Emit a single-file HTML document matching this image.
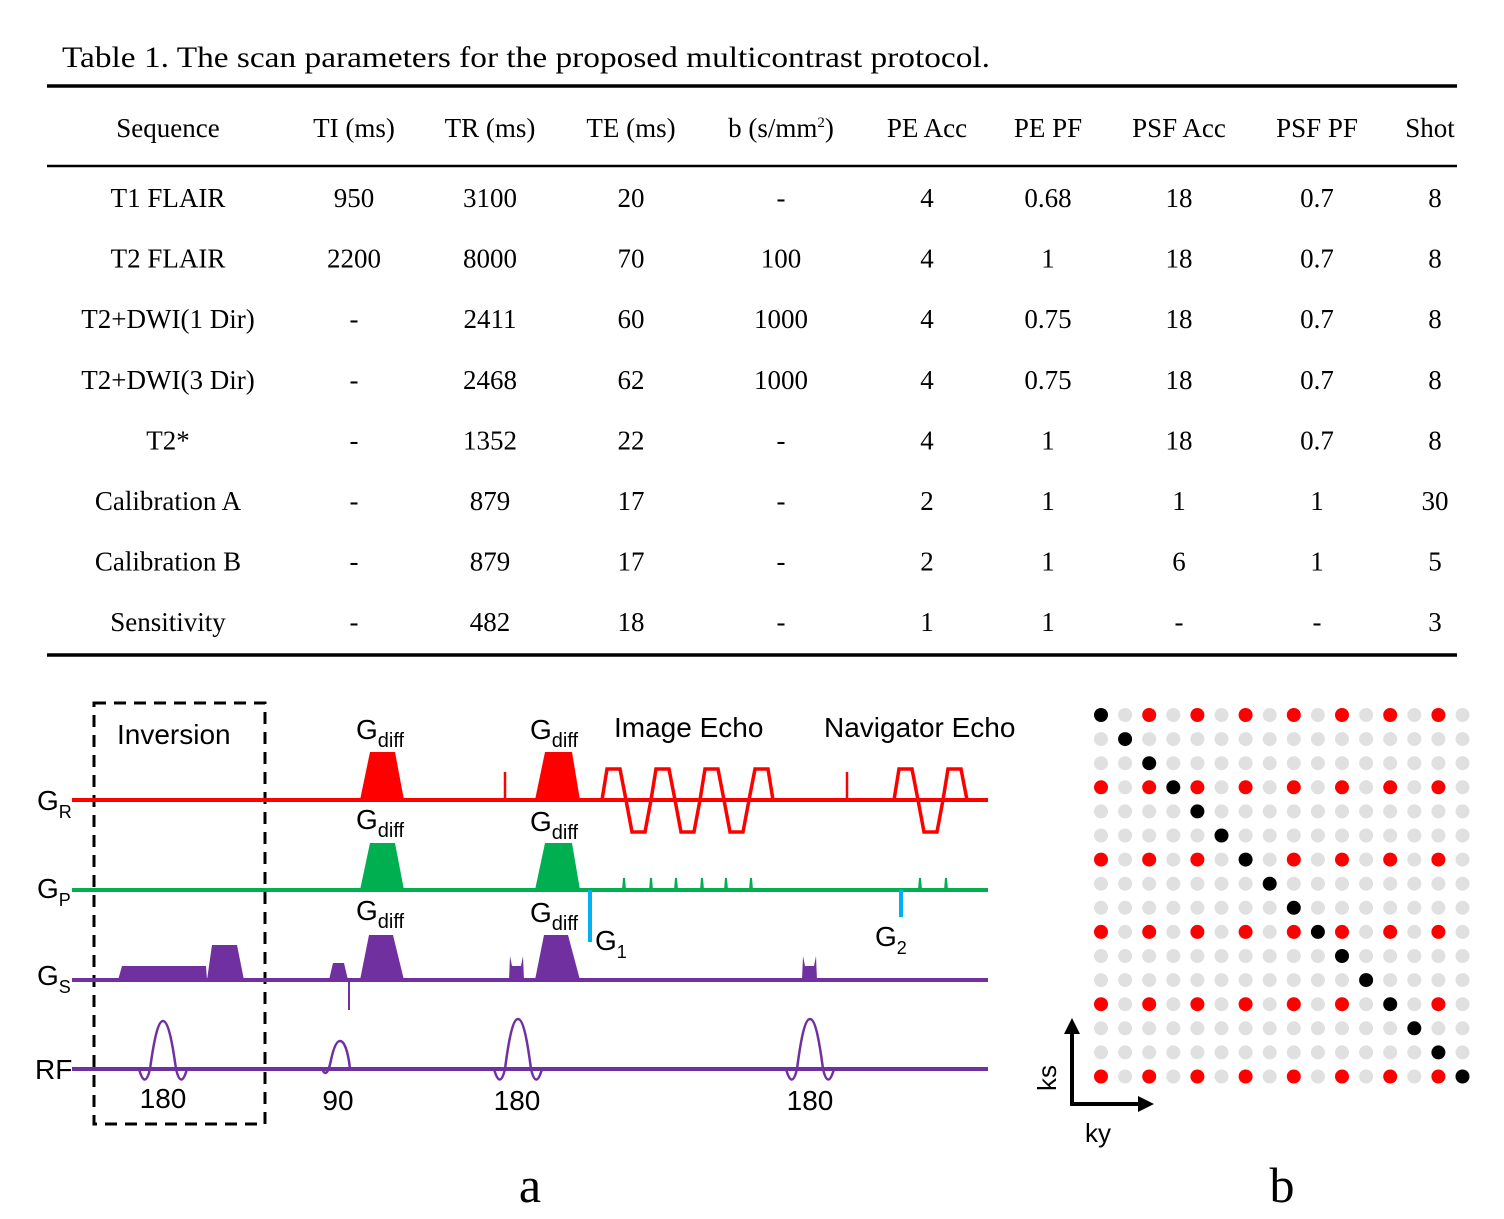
<!DOCTYPE html>
<html><head><meta charset="utf-8"><style>
html,body{margin:0;padding:0;background:#fff;}
svg{display:block;}
.serif{font-family:"Liberation Serif",serif;}
.sans{font-family:"Liberation Sans",sans-serif;}
</style></head><body>
<svg id="fig" width="1504" height="1219" viewBox="0 0 1504 1219" xmlns="http://www.w3.org/2000/svg">
<rect width="1504" height="1219" fill="#fff"/>
<g id="table" class="serif">
  <text x="62" y="67" font-size="30" textLength="928" lengthAdjust="spacingAndGlyphs">Table 1. The scan parameters for the proposed multicontrast protocol.</text>
  <line x1="47" x2="1457" y1="86" y2="86" stroke="#000" stroke-width="3.5"/>
  <line x1="47" x2="1457" y1="166" y2="166" stroke="#000" stroke-width="2.5"/>
  <line x1="47" x2="1457" y1="655" y2="655" stroke="#000" stroke-width="3.5"/>
  <g id="thead" font-size="27" text-anchor="middle"></g>
  <g id="tbody" font-size="27" text-anchor="middle"></g>
</g>

<g id="seq">
  <rect x="94" y="703" width="171" height="421" fill="none" stroke="#000" stroke-width="3" stroke-dasharray="12,8"/>
  <g class="sans" font-size="28" fill="#000">
    <text x="117" y="744">Inversion</text>
    <text x="614" y="737">Image Echo</text>
    <text x="824" y="737">Navigator Echo</text>
    <text x="37" y="810">G<tspan font-size="18" dy="8">R</tspan></text>
    <text x="37" y="898">G<tspan font-size="18" dy="8">P</tspan></text>
    <text x="37" y="985">G<tspan font-size="18" dy="8">S</tspan></text>
    <text x="35" y="1079">RF</text>
    <text x="356" y="739">G<tspan font-size="20" dy="8">diff</tspan></text>
    <text x="530" y="739">G<tspan font-size="20" dy="8">diff</tspan></text>
    <text x="356" y="829">G<tspan font-size="20" dy="8">diff</tspan></text>
    <text x="530" y="831">G<tspan font-size="20" dy="8">diff</tspan></text>
    <text x="356" y="920">G<tspan font-size="20" dy="8">diff</tspan></text>
    <text x="530" y="922">G<tspan font-size="20" dy="8">diff</tspan></text>
    <text x="595" y="950">G<tspan font-size="18" dy="8">1</tspan></text>
    <text x="875" y="946">G<tspan font-size="18" dy="8">2</tspan></text>
    <text x="163" y="1108" text-anchor="middle">180</text>
    <text x="338" y="1110" text-anchor="middle">90</text>
    <text x="517" y="1110" text-anchor="middle">180</text>
    <text x="810" y="1110" text-anchor="middle">180</text>
  </g>
  <!-- GR -->
  <g>
    <line x1="72" x2="988" y1="800" y2="800" stroke="#f00" stroke-width="4"/>
    <polygon points="360,800 370,752 395,752 404,800" fill="#f00"/>
    <polygon points="535,800 545,752 572,752 580,800" fill="#f00"/>
    <line x1="505" x2="505" y1="800" y2="772" stroke="#f00" stroke-width="2.5"/>
    <line x1="847" x2="847" y1="800" y2="772" stroke="#f00" stroke-width="2.5"/>
    <polyline points="602,800 607,769 620,769 626,800 632,832 645,832 651,800 656,769 669,769 675,800 681,832 694,832 700,800 705,769 718,769 724,800 730,832 743,832 749,800 755,769 768,769 773,800" fill="none" stroke="#f00" stroke-width="3.5"/>
    <polyline points="894,800 899,769 912,769 918,800 924,832 937,832 943,800 948,769 961,769 967,800" fill="none" stroke="#f00" stroke-width="3.5"/>
  </g>
  <!-- GP -->
  <g>
    <line x1="72" x2="988" y1="890" y2="890" stroke="#00b050" stroke-width="4"/>
    <polygon points="360,890 370,843 395,843 404,890" fill="#00b050"/>
    <polygon points="535,890 545,843 572,843 580,890" fill="#00b050"/>
    <path d="M623,890 l1,-12 l1,12 M650,890 l1,-12 l1,12 M675,890 l1,-12 l1,12 M701,890 l1,-12 l1,12 M725,890 l1,-12 l1,12 M750,890 l1,-12 l1,12 M919,890 l1,-12 l1,12 M945,890 l1,-12 l1,12" fill="none" stroke="#00b050" stroke-width="2"/>
    <line x1="590" x2="590" y1="890" y2="942" stroke="#00b0f0" stroke-width="4"/>
    <line x1="901" x2="901" y1="890" y2="917" stroke="#00b0f0" stroke-width="4"/>
  </g>
  <!-- GS -->
  <g fill="#7030a0">
    <line x1="72" x2="988" y1="980" y2="980" stroke="#7030a0" stroke-width="4"/>
    <polygon points="118,980 122,966 206,966 207,980"/>
    <polygon points="207,980 212,945 237,945 244,980"/>
    <polygon points="329,980 333,963 344,963 348,980"/>
    <line x1="349" x2="349" y1="980" y2="1010" stroke="#7030a0" stroke-width="2"/>
    <polygon points="360,980 369,935 393,935 404,980"/>
    <polygon points="535,980 544,935 568,935 580,980"/>
    <path d="M509,980 L510,956 L512,966 L521,966 L523,956 L524,980 Z"/>
    <path d="M802,980 L803,956 L805,966 L814,966 L816,956 L817,980 Z"/>
  </g>
  <!-- RF -->
  <g fill="none" stroke="#7030a0">
    <line x1="72" x2="988" y1="1069" y2="1069" stroke-width="4"/>
    <path d="M139,1069 Q145,1090 150,1069 C154,1040 158,1021 163,1021 C168,1021 172,1040 176,1069 Q181,1090 187,1069" stroke-width="2.5"/>
    <path d="M322,1069 Q327,1080 331,1060 C334,1046 337,1041 340,1041 C344,1041 348,1050 350,1069" stroke-width="2.5"/>
    <path d="M494,1069 Q500,1090 505,1069 C509,1038 513,1019 518,1019 C523,1019 527,1038 531,1069 Q536,1090 542,1069" stroke-width="2.5"/>
    <path d="M786,1069 Q792,1090 797,1069 C801,1038 805,1019 810,1019 C815,1019 819,1038 823,1069 Q828,1090 834,1069" stroke-width="2.5"/>
  </g>
  <text x="530" y="1202" class="serif" font-size="50" text-anchor="middle">a</text>
</g>

<g id="grid">
  <g id="dots"></g>
  <line x1="1072" x2="1072" y1="1106" y2="1030" stroke="#000" stroke-width="4"/>
  <polygon points="1072,1018 1064,1034 1080,1034" fill="#000"/>
  <line x1="1070" x2="1142" y1="1104" y2="1104" stroke="#000" stroke-width="4"/>
  <polygon points="1154,1104 1138,1096 1138,1112" fill="#000"/>
  <text transform="translate(1056,1078) rotate(-90)" class="sans" font-size="26" text-anchor="middle">ks</text>
  <text x="1098" y="1142" class="sans" font-size="26" text-anchor="middle">ky</text>
  <text x="1282" y="1202" class="serif" font-size="50" text-anchor="middle">b</text>
</g>
</svg>
<script>
const headers = ["Sequence","TI (ms)","TR (ms)","TE (ms)","b (s/mm²)","PE Acc","PE PF","PSF Acc","PSF PF","Shot"];
const rows = [
 ["T1 FLAIR","950","3100","20","-","4","0.68","18","0.7","8"],
 ["T2 FLAIR","2200","8000","70","100","4","1","18","0.7","8"],
 ["T2+DWI(1 Dir)","-","2411","60","1000","4","0.75","18","0.7","8"],
 ["T2+DWI(3 Dir)","-","2468","62","1000","4","0.75","18","0.7","8"],
 ["T2*","-","1352","22","-","4","1","18","0.7","8"],
 ["Calibration A","-","879","17","-","2","1","1","1","30"],
 ["Calibration B","-","879","17","-","2","1","6","1","5"],
 ["Sensitivity","-","482","18","-","1","1","-","-","3"]
];
const gridSize = 16;
const redRows = [0,3,6,9,12,15];
const redCols = [0,2,4,6,8,10,12,14];
const blackCols = [0,1,2,3,4,5,6,7,8,9,10,11,12,13,14,15];

const NS="http://www.w3.org/2000/svg";
const colX=[168,354,490,631,781,927,1048,1179,1317,1430];
const valX=[168,354,490,631,781,927,1048,1179,1317,1435];
const thead=document.getElementById('thead');
headers.forEach((h,i)=>{
  const t=document.createElementNS(NS,'text');
  t.setAttribute('x',colX[i]);t.setAttribute('y',137);
  if(i===4){t.innerHTML='b (s/mm<tspan font-size="15" dy="-10">2</tspan><tspan dy="10">)</tspan>';}
  else t.textContent=h;
  
  
  thead.appendChild(t);
});
const tbody=document.getElementById('tbody');
rows.forEach((r,ri)=>{
  const y=207+ri*60.6;
  r.forEach((v,ci)=>{
    const t=document.createElementNS(NS,'text');
    t.setAttribute('x',valX[ci]);t.setAttribute('y',y);t.textContent=v;
    
    
    tbody.appendChild(t);
  });
});
const dots=document.getElementById('dots');
const x0=1101,y0=715,step=24.1;
for(let r=0;r<gridSize;r++){
  for(let c=0;c<gridSize;c++){
    let col='#e0e0e0';
    if(redRows.includes(r)&&redCols.includes(c)) col='#ff0000';
    if(blackCols[r]===c) col='#000';
    const d=document.createElementNS(NS,'circle');
    d.setAttribute('cx',x0+c*step);d.setAttribute('cy',y0+r*step);d.setAttribute('r',7);
    d.setAttribute('fill',col);
    
    
    dots.appendChild(d);
  }
}
</script>
</body></html>
